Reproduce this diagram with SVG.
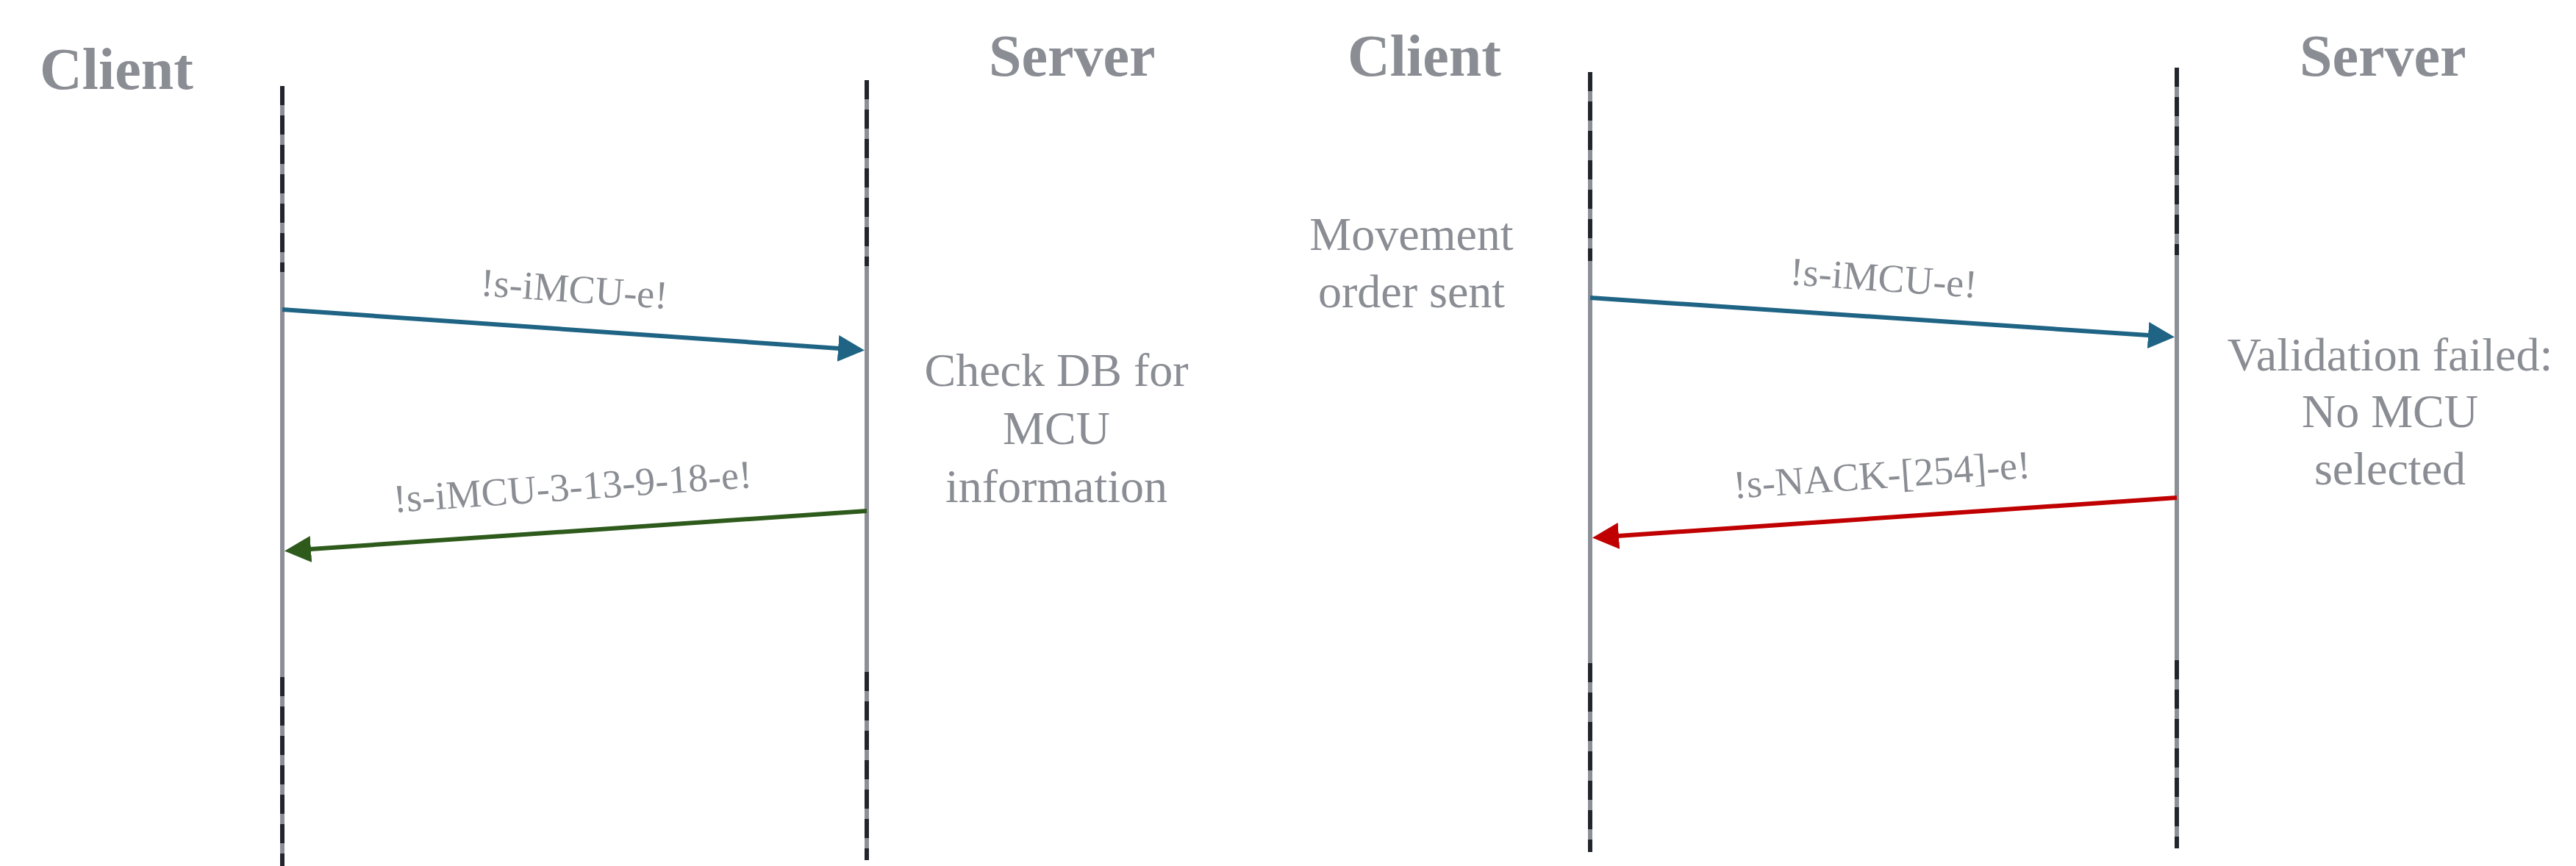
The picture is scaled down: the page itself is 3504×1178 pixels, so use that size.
<svg xmlns="http://www.w3.org/2000/svg" width="3504" height="1178" viewBox="0 0 3504 1178">
<style>
.t{font-family:"Liberation Serif",serif;fill:#8a8d93}
.h{font-size:80px;font-weight:bold}
.n{font-size:64px;text-anchor:middle}
.l{font-size:54px;text-anchor:middle}
.life{stroke:#8c9096;stroke-width:6}
.dash{stroke:#22252b;stroke-width:6;stroke-dasharray:26 14}
.a{stroke-width:6;fill:none}
</style>
<defs>
<marker id="mb" markerWidth="6" markerHeight="6" refX="5" refY="3" orient="auto" markerUnits="strokeWidth"><path d="M0,0L6,3L0,6z" fill="#1f6484"/></marker>
<marker id="mg" markerWidth="6" markerHeight="6" refX="5" refY="3" orient="auto" markerUnits="strokeWidth"><path d="M0,0L6,3L0,6z" fill="#2e5a1c"/></marker>
<marker id="mr" markerWidth="6" markerHeight="6" refX="5" refY="3" orient="auto" markerUnits="strokeWidth"><path d="M0,0L6,3L0,6z" fill="#c00000"/></marker>
</defs>
<g id="client1"><text class="t h" x="54" y="121">Client</text>
<line class="life" x1="384" y1="117" x2="384" y2="1178"/><line class="dash" x1="384" y1="117" x2="384" y2="370"/><line class="dash" x1="384" y1="921" x2="384" y2="1178"/></g>
<g id="server1"><text class="t h" x="1345" y="103">Server</text>
<line class="life" x1="1179" y1="109" x2="1179" y2="1170"/><line class="dash" x1="1179" y1="109" x2="1179" y2="362"/><line class="dash" x1="1179" y1="914" x2="1179" y2="1170"/>
<text class="t n" x="1437" y="525">Check DB for</text><text class="t n" x="1437" y="604">MCU</text><text class="t n" x="1437" y="683">information</text></g>
<g id="client2"><text class="t h" x="1833" y="103">Client</text>
<line class="life" x1="2163" y1="98" x2="2163" y2="1159"/><line class="dash" x1="2163" y1="98" x2="2163" y2="355"/><line class="dash" x1="2163" y1="902" x2="2163" y2="1159"/>
<text class="t n" x="1920" y="340">Movement</text><text class="t n" x="1920" y="418">order sent</text></g>
<g id="server2"><text class="t h" x="3128" y="103">Server</text>
<line class="life" x1="2961" y1="92" x2="2961" y2="1154"/><line class="dash" x1="2961" y1="92" x2="2961" y2="347"/><line class="dash" x1="2961" y1="898" x2="2961" y2="1154"/>
<text class="t n" x="3251" y="504">Validation failed:</text><text class="t n" x="3251" y="581">No MCU</text><text class="t n" x="3251" y="659">selected</text></g>
<g id="connectors">
<line class="a" stroke="#1f6484" x1="384" y1="421" x2="1170" y2="476" marker-end="url(#mb)"/>
<text class="t l" transform="translate(780,411) rotate(4)">!s-iMCU-e!</text>
<line class="a" stroke="#2e5a1c" x1="1179" y1="695" x2="393" y2="749" marker-end="url(#mg)"/>
<text class="t l" transform="translate(780,680) rotate(-4)">!s-iMCU-3-13-9-18-e!</text>
<line class="a" stroke="#1f6484" x1="2163" y1="405" x2="2952" y2="458" marker-end="url(#mb)"/>
<text class="t l" transform="translate(2561,396) rotate(4)">!s-iMCU-e!</text>
<line class="a" stroke="#c00000" x1="2961" y1="677" x2="2172" y2="731" marker-end="url(#mr)"/>
<text class="t l" transform="translate(2561,664) rotate(-4)">!s-NACK-[254]-e!</text>
</g>
</svg>
